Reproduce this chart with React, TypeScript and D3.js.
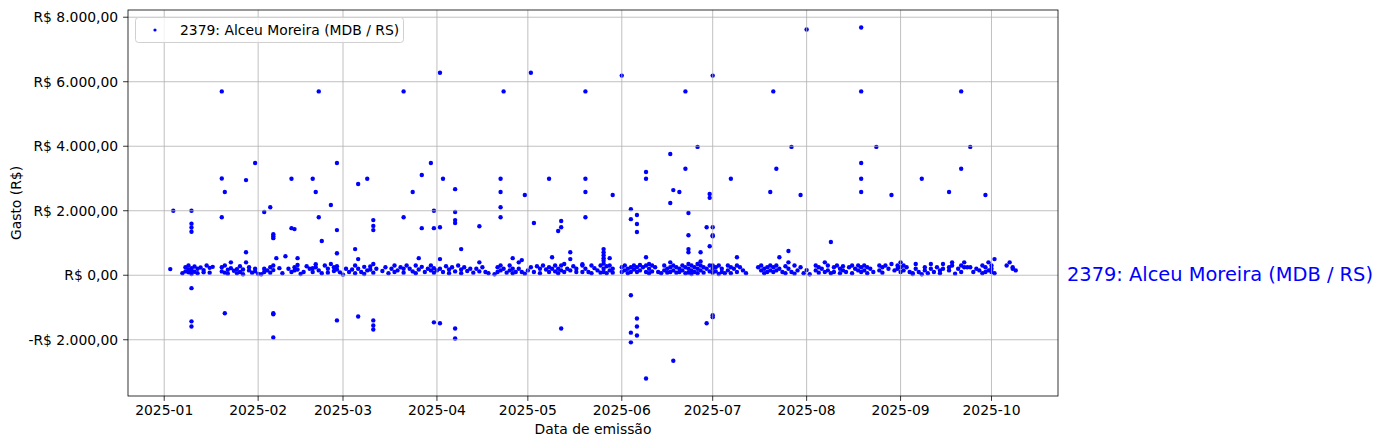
import React from "react";
import * as d3 from "d3";

// [day of month, value in R$]
const jan: [number, number][] = [
  [3, 190], [4, 2000], [10, 2000], [10, 1600], [10, 1480], [10, 1350], [10, -400], [10, -1430], [10, -1590],
  [20, 5700], [20, 3000], [21, 2580], [20, 1800], [21, -1180], [28, 2950], [31, 3480], [28, 715], [28, 400], [23, 400],
  [7, 60], [8, 120], [8, 250], [9, 180], [9, 90], [9, 300], [10, 220], [10, 150], [10, 40], [11, 270], [11, 110],
  [12, 60], [12, 200], [13, 240], [14, 90], [14, 160], [15, 300], [16, 230], [16, 80], [17, 260],
  [20, 250], [20, 120], [21, 80], [21, 300], [22, 170], [22, 50], [23, 220], [24, 140], [25, 60], [25, 190],
  [26, 280], [26, 100], [27, 30], [27, 180], [29, 150], [29, 250], [30, 80], [31, 200], [31, 120],
];
const feb: [number, number][] = [
  [3, 1960], [5, 2110], [6, 1270], [6, 1210], [6, 1150], [6, -1180], [6, -1210], [6, -1930],
  [12, 2990], [12, 1460], [13, 1430], [19, 2990], [20, 2580], [21, 5700], [21, 1800], [22, 1060],
  [25, 2180], [27, 3480], [27, 1400], [27, -1400], [27, 680], [10, 590], [14, 530], [7, 530],
  [1, 40], [2, 30], [3, 100], [3, 200], [4, 150], [5, 250], [5, 80], [6, 160], [6, 300], [8, 220], [9, 60],
  [11, 200], [12, 100], [13, 250], [13, 150], [14, 320], [14, 180], [15, 40], [16, 100], [17, 280], [18, 200],
  [19, 220], [19, 100], [20, 250], [20, 340], [21, 150], [22, 60], [23, 300], [24, 200], [24, 80], [25, 350],
  [26, 250], [26, 130], [27, 180], [27, 280], [28, 90],
];
const mar: [number, number][] = [
  [5, 810], [6, 2830], [6, -1280], [6, 500], [9, 2990], [11, 1710], [11, 1530], [11, 1400],
  [11, -1400], [11, -1560], [11, -1680], [21, 5700], [21, 1800], [24, 2580], [27, 3110], [27, 1460],
  [26, 530], [30, 3480], [31, 2000], [31, 1460], [31, -1460],
  [1, 20], [2, 200], [3, 100], [4, 180], [5, 300], [5, 60], [6, 200], [7, 100], [8, 260], [8, 40], [9, 150],
  [10, 270], [10, 180], [11, 350], [11, 80], [12, 200], [14, 130], [15, 250], [16, 60], [17, 200], [18, 300],
  [18, 100], [19, 150], [20, 250], [21, 200], [21, 80], [22, 300], [23, 200], [24, 120], [25, 300], [25, 60],
  [26, 180], [27, 260], [28, 100], [29, 200], [30, 150], [30, 300], [31, 80], [31, 220],
];
const apr: [number, number][] = [
  [2, 6280], [2, 1490], [2, -1490], [2, 500], [3, 2990], [7, 2670], [7, 1960], [7, 1710], [7, 1620],
  [7, -1650], [7, -1960], [9, 810], [15, 1520], [15, 400], [22, 2990], [22, 2580], [22, 2110], [22, 1800],
  [23, 5700], [26, 530], [28, 400], [29, 470], [30, 2490],
  [1, 150], [2, 200], [3, 100], [4, 280], [5, 60], [5, 180], [6, 250], [7, 120], [8, 300], [9, 180], [9, 60],
  [10, 250], [11, 130], [12, 200], [13, 80], [14, 200], [15, 120], [16, 250], [17, 100], [18, 60], [20, 30],
  [21, 250], [21, 100], [22, 300], [22, 150], [23, 200], [24, 80], [25, 300], [25, 150], [26, 60], [26, 200],
  [27, 100], [28, 200], [29, 100], [30, 50],
];
const may: [number, number][] = [
  [2, 6280], [3, 1620], [8, 2990], [9, 560], [11, 1370], [12, 1490], [12, 1680], [12, -1650],
  [15, 715], [15, 500], [20, 5700], [20, 2990], [20, 2580], [20, 1800],
  [26, 810], [26, 710], [26, 620], [26, 530], [26, 450], [26, 360], [28, 530], [29, 2490],
  [1, 150], [2, 250], [3, 100], [4, 280], [5, 200], [5, 60], [6, 300], [7, 180], [8, 100], [8, 250], [9, 200],
  [10, 300], [10, 120], [11, 200], [11, 60], [12, 300], [12, 150], [13, 100], [13, 350], [14, 200], [15, 150],
  [16, 280], [17, 100], [17, 200], [19, 300], [19, 100], [19, 340], [20, 200], [21, 100], [22, 300], [22, 60],
  [23, 220], [24, 150], [25, 300], [25, 80], [26, 200], [26, 100], [27, 280], [27, 60], [28, 300], [28, 150],
  [29, 200], [29, 80],
];
const jun: [number, number][] = [
  [1, 6190], [4, 2050], [4, 1740], [4, -620], [4, -1780], [4, -2080], [6, 1870], [6, 1590], [6, 1340],
  [6, -1340], [6, -1590], [6, -1870], [9, 3200], [9, 2990], [9, -3200], [9, 560], [17, 3760], [17, 2240],
  [18, 2640], [18, -2650], [20, 2580], [22, 5700], [22, 3300], [23, 1930], [23, 1240], [23, 810], [23, 715],
  [26, 3980], [27, 715], [27, 430], [29, 1490], [29, -1490], [30, 2520], [30, 2400], [30, 900],
  [1, 250], [1, 100], [2, 300], [2, 150], [3, 200], [3, 60], [4, 250], [4, 100], [5, 300], [5, 180], [6, 250],
  [6, 100], [7, 320], [7, 150], [8, 250], [9, 300], [9, 100], [10, 350], [10, 200], [10, 60], [11, 300],
  [11, 120], [12, 250], [13, 100], [14, 60], [15, 300], [15, 150], [16, 200], [16, 80], [17, 400], [17, 250],
  [17, 100], [18, 300], [18, 150], [19, 250], [19, 80], [20, 200], [20, 100], [21, 300], [21, 150], [22, 250],
  [22, 60], [23, 350], [23, 200], [23, 80], [24, 300], [24, 150], [24, 40], [25, 250], [25, 100], [26, 350],
  [26, 200], [26, 60], [27, 300], [27, 150], [28, 250], [28, 80], [29, 200], [30, 300], [30, 120],
];
const jul: [number, number][] = [
  [1, 6190], [1, 1490], [1, 1240], [1, 1210], [1, -1240], [1, -1300], [7, 2990], [9, 560], [20, 2580],
  [21, 5700], [22, 3300], [23, 560], [26, 750], [26, 400], [27, 3980], [30, 2490],
  [1, 300], [1, 200], [1, 80], [2, 250], [2, 120], [3, 300], [3, 40], [4, 200], [4, 100], [5, 60], [6, 300],
  [6, 150], [7, 250], [7, 60], [8, 200], [9, 300], [9, 100], [10, 250], [11, 150], [12, 60], [16, 250],
  [17, 300], [17, 150], [18, 200], [18, 60], [19, 100], [19, 250], [20, 300], [20, 150], [21, 250], [21, 100],
  [22, 300], [22, 150], [23, 200], [24, 100], [25, 280], [25, 60], [26, 200], [27, 100], [28, 300], [28, 50],
  [29, 150], [30, 250], [31, 60],
];
const aug: [number, number][] = [
  [1, 7620], [1, 160], [2, 30], [7, 400], [9, 1030], [19, 7680], [19, 5700], [19, 3480], [19, 2990],
  [19, 2580], [24, 3980], [29, 2490],
  [4, 300], [4, 150], [5, 250], [5, 80], [6, 200], [7, 100], [8, 300], [8, 150], [9, 60], [10, 250], [10, 100],
  [11, 300], [12, 200], [12, 60], [13, 280], [13, 150], [14, 100], [15, 250], [16, 300], [16, 60], [17, 200],
  [18, 300], [18, 150], [19, 250], [19, 100], [20, 300], [20, 150], [21, 250], [21, 60], [22, 200], [23, 100],
  [25, 300], [25, 150], [26, 250], [26, 80], [27, 300], [28, 200], [29, 350], [30, 150], [31, 300], [31, 200],
];
const sep: [number, number][] = [
  [8, 2990], [17, 2580], [21, 5700], [21, 3300], [24, 3980], [29, 2490],
  [1, 400], [1, 250], [1, 100], [2, 300], [2, 150], [3, 250], [4, 100], [5, 60], [5, 40], [6, 350], [6, 200],
  [7, 100], [8, 30], [9, 250], [9, 150], [10, 60], [11, 350], [11, 200], [12, 100], [13, 250], [14, 150],
  [14, 60], [15, 350], [15, 200], [17, 250], [17, 150], [18, 400], [18, 300], [19, 50], [20, 200], [21, 300],
  [21, 100], [22, 400], [22, 250], [23, 250], [24, 250], [25, 100], [26, 200], [27, 150], [28, 300], [28, 60],
  [29, 250], [29, 100], [30, 150], [30, 400],
];
const oct: [number, number][] = [
  [1, 300], [1, 200], [1, 100], [2, 500], [2, 60], [6, 300], [7, 400], [8, 250], [8, 200], [9, 150],
];

const months = [jan, feb, mar, apr, may, jun, jul, aug, sep, oct];
const yTicks = [-2000, 0, 2000, 4000, 6000, 8000];
const xTickMonths = [0, 1, 2, 3, 4, 5, 6, 7, 8, 9];
const seriesName = "2379: Alceu Moreira (MDB / RS)";

const points = months.flatMap((m, mi) =>
  m.map(([day, v]) => ({ date: new Date(2025, mi, day), value: v }))
);

const ptBR = d3.formatLocale({
  decimal: ",",
  thousands: ".",
  grouping: [3],
  currency: ["R$ ", ""],
});
const num = ptBR.format(",.2f");
const fmtBRL = (v: number) => (v < 0 ? "-R$ " : "R$ ") + num(Math.abs(v));

export default function App() {
  const W = 1384, H = 448;
  const L = 128, R = 1058, T = 10, B = 396;
  const [dMin, dMax] = d3.extent(points, (p) => p.date.getTime()) as [number, number];
  const [vMin, vMax] = d3.extent(points, (p) => p.value) as [number, number];
  const dx = (dMax - dMin) * 0.05;
  const dv = (vMax - vMin) * 0.05;
  const x = d3.scaleTime().domain([new Date(dMin - dx), new Date(dMax + dx)]).range([L, R]);
  const y = d3.scaleLinear().domain([vMin - dv, vMax + dv]).range([B, T]);
  const xTicks = xTickMonths.map((m) => new Date(2025, m, 1));
  const fmtDate = d3.timeFormat("%Y-%m");
  const font = "DejaVu Sans, sans-serif";
  const grid = "#b0b0b0";

  return (
    <svg width={W} height={H} style={{ position: "absolute", left: 0, top: 0 }} fontFamily={font}>
      <rect x={0} y={0} width={W} height={H} fill="white" />
      <g>
        {points.map((p, i) => (
          <circle key={i} cx={x(p.date)} cy={y(p.value)} r={2.2} fill="#0000ff" />
        ))}
      </g>
      <g stroke={grid} strokeWidth={0.8}>
        {xTicks.map((t, i) => (
          <line key={"gx" + i} x1={x(t)} x2={x(t)} y1={T} y2={B} />
        ))}
        {yTicks.map((t, i) => (
          <line key={"gy" + i} x1={L} x2={R} y1={y(t)} y2={y(t)} />
        ))}
      </g>
      <rect x={L} y={T} width={R - L} height={B - T} fill="none" stroke="black" strokeWidth={0.8} />
      <g fontSize={13.9} fill="black">
        {xTicks.map((t, i) => (
          <g key={"tx" + i}>
            <line x1={x(t)} x2={x(t)} y1={B} y2={B + 4.9} stroke="black" strokeWidth={0.8} />
            <text x={x(t)} y={B + 19} textAnchor="middle">{fmtDate(t)}</text>
          </g>
        ))}
        {yTicks.map((t, i) => (
          <g key={"ty" + i}>
            <line x1={L - 4.9} x2={L} y1={y(t)} y2={y(t)} stroke="black" strokeWidth={0.8} />
            <text x={L - 9.8} y={y(t)} dy="0.35em" textAnchor="end">{fmtBRL(t)}</text>
          </g>
        ))}
        <text x={(L + R) / 2} y={434} textAnchor="middle">Data de emissão</text>
        <text transform={`translate(21,${(T + B) / 2}) rotate(-90)`} textAnchor="middle">Gasto (R$)</text>
      </g>
      <g>
        <rect x={135.5} y={17.5} width={268} height={25} rx={3} fill="white" fillOpacity={0.8} stroke="#d0d0d0" strokeWidth={1} />
        <circle cx={155} cy={30} r={1.6} fill="#0000ff" />
        <text x={180} y={34.5} fontSize={13.9} fill="black">{seriesName}</text>
      </g>
      <text x={1067} y={280.5} fontSize={19.4} fill="#0000ff">{seriesName}</text>
    </svg>
  );
}
